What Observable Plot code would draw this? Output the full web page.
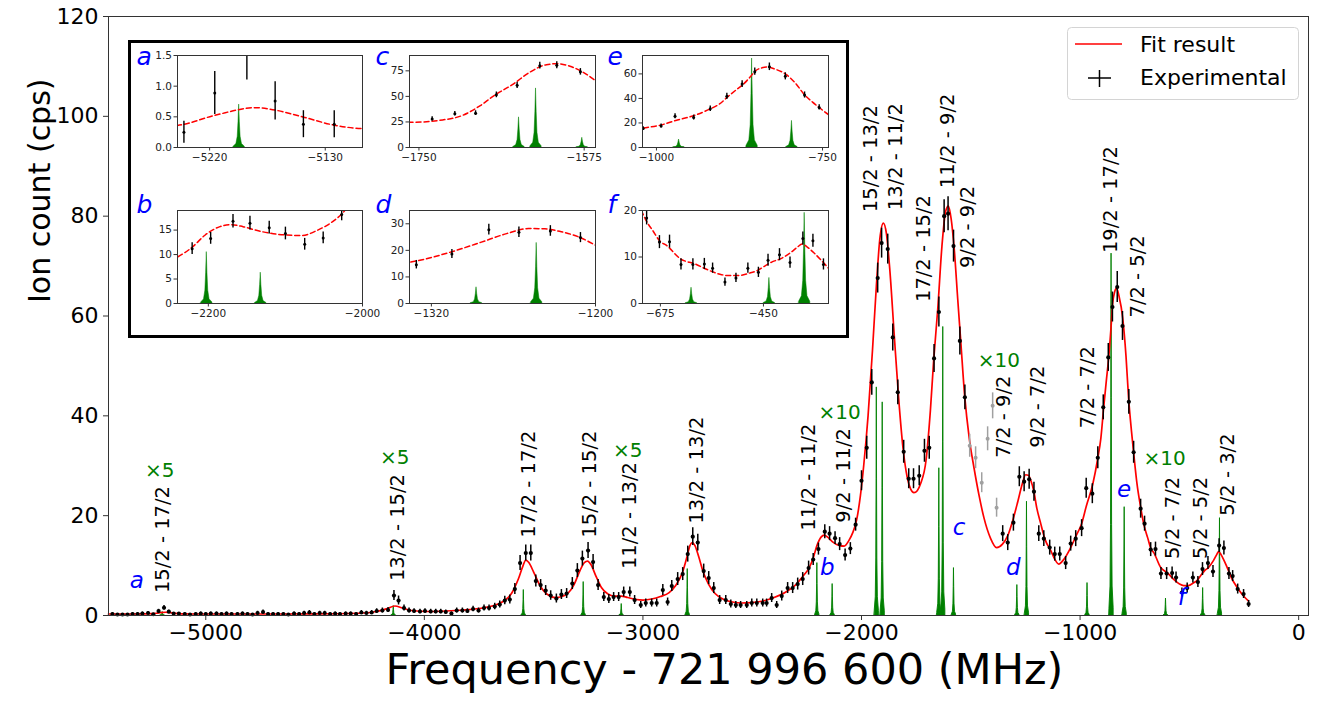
<!DOCTYPE html>
<html><head><meta charset="utf-8">
<script src="https://cdn.jsdelivr.net/npm/d3@7"></script>
<script src="https://cdn.jsdelivr.net/npm/@observablehq/plot@0.6"></script>
<style>
body{margin:0;background:#fff;font-family:"DejaVu Sans",sans-serif;}
#wrap{position:relative;width:1319px;height:704px;overflow:hidden;}
#wrap svg{position:absolute;}
#box{position:absolute;left:128px;top:40px;width:721px;height:298px;border:3px solid #000;background:#fff;box-sizing:border-box;}
</style></head><body><div id="wrap"></div>
<script>
// ---------- data ----------
const expFreq = [
-5427,-5404,-5381,-5358,-5335,-5312,-5290,-5264,-5240,-5216,
-5191,-5169,-5147,-5123,-5096,-5072,-5046,-5023,-5000,-4977,
-4951,-4928,-4905,-4882,-4855,-4832,-4809,-4786,-4763,-4738,
-4715,-4692,-4669,-4645,-4622,-4596,-4573,-4550,-4526,-4503,
-4479,-4456,-4431,-4408,-4386,-4360,-4337,-4312,-4288,-4265,
-4241,-4218,-4192,-4166,-4139,-4118,-4093,-4070,-4047,-4020,
-3997,-3971,-3948,-3925,-3902,-3876,-3852,-3826,-3803,-3777,
-3752,-3727,-3704,-3678,-3655,-3632,-3609,-3586,-3562,-3536,
-3513,-3490,-3468,-3445,-3422,-3396,-3373,-3349,-3323,-3300,
-3277,-3251,-3228,-3205,-3179,-3156,-3134,-3111,-3088,-3060,
-3038,-3010,-2987,-2960,-2937,-2909,-2887,-2868,-2841,-2818,
-2795,-2772,-2749,-2722,-2699,-2676,-2649,-2621,-2598,-2575,
-2553,-2525,-2502,-2479,-2452,-2434,-2411,-2388,-2365,-2338,
-2315,-2292,-2269,-2242,-2221,-2197,-2168,-2146,-2121,-2100,
-2075,-2051,-2027,-2000,-1976,-1953,-1926,-1908,-1880,-1857,
-1834,-1807,-1784,-1762,-1736,-1712,-1690,-1668,-1646,-1622,
-1604,-1579,-1550,-1527,-1354,-1331,-1305,-1278,-1256,-1233,
-1211,-1189,-1166,-1139,-1116,-1093,-1066,-1043,-1020,-993,
-972,-944,-919,-894,-871,-852,-830,-806,-777,-755,
-723,-705,-677,-655,-630,-604,-579,-561,-534,-510,
-484,-461,-440,-415,-392,-364,-342,-319,-302,-279,
-252,-229];
const expCount = [
0.3,0.2,0.2,0.2,0.3,0.3,0.4,0.5,0.25,0.89,
1.55,0.76,0.38,0.38,0.3,0.2,0.3,0.4,0.3,0.4,
0.4,0.3,0.4,0.3,0.3,0.4,0.3,0.2,0.5,0.7,
0.3,0.3,0.3,0.3,0.2,0.4,0.3,0.5,0.6,0.3,
0.5,0.5,0.3,0.4,0.3,0.4,0.4,0.3,0.6,0.5,
0.6,0.9,1.0,1.1,4.0,3.0,1.5,1.0,0.9,0.8,
0.9,0.8,0.8,0.8,0.7,0.4,1.0,1.0,0.9,1.3,
1.0,1.5,1.5,1.8,2.2,3.0,3.2,5.3,10.5,12.5,
12.5,6.9,6.1,5.0,4.0,3.4,4.2,4.4,6.4,9.0,
11.4,13.0,10.7,6.1,3.7,3.3,3.7,3.7,4.7,4.7,
3.1,2.1,2.5,2.5,2.5,5.1,2.7,5.9,7.3,8.3,
12.3,15.8,14.6,8.9,7.5,5.5,3.1,3.1,2.3,2.1,
2.1,2.1,2.5,2.5,2.5,2.5,3.5,2.1,3.9,5.5,
5.5,6.3,7.3,9.5,11.2,13.3,16.8,16.4,15.5,14.3,
12.1,13.4,18.2,27,33.6,46.7,67.6,74.6,73.4,55.7,
44.7,32.8,27.4,27.4,28,33,33.6,51.5,60.8,80,
80.5,74,55,43.7,16.4,14.6,18.6,27.8,26.8,27.3,
24.8,16.4,15.4,13.6,12.3,12.3,10.5,14.4,15.4,17.5,
25.5,24.4,31.6,41.7,51.7,61.8,65.8,58,42.8,32.7,
21.4,18.4,13.2,13.3,8.4,8.4,8.5,7.6,4.6,5.5,
7.6,6.7,9.3,10.5,8.8,14,13.5,8.4,7.9,5.3,
4.3,2.3];
const expErr = [
0.25,0.2,0.2,0.2,0.25,0.25,0.3,0.3,0.18,0.35,
0.45,0.31,0.22,0.22,0.25,0.2,0.25,0.3,0.25,0.3,
0.3,0.25,0.3,0.25,0.25,0.3,0.25,0.2,0.35,0.4,
0.25,0.25,0.25,0.25,0.2,0.3,0.25,0.35,0.4,0.25,
0.35,0.35,0.25,0.3,0.25,0.3,0.3,0.25,0.4,0.35,
0.4,0.45,0.5,0.5,1.0,0.9,0.6,0.5,0.45,0.45,
0.45,0.45,0.45,0.45,0.4,0.3,0.5,0.5,0.45,0.55,
0.5,0.6,0.6,0.65,0.7,0.85,0.9,1.1,1.5,1.6,
1.6,1.2,1.1,1.0,0.95,0.9,1.0,1.0,1.2,1.4,
1.5,1.6,1.5,1.1,0.9,0.9,0.9,0.9,1.0,1.0,
0.9,0.7,0.8,0.8,0.8,1.1,0.8,1.1,1.3,1.3,
1.6,1.8,1.7,1.4,1.3,1.1,0.9,0.9,0.8,0.7,
0.7,0.7,0.8,0.8,0.8,0.8,0.9,0.7,1.0,1.1,
1.1,1.2,1.3,1.4,1.2,1.2,1.4,1.4,1.3,1.3,
1.2,1.2,1.3,2.0,2.3,2.6,3.0,3.0,3.0,2.7,
2.5,2.3,2.0,2.0,2.0,2.3,2.3,2.8,3.0,3.3,
3.4,3.2,2.8,2.5,1.6,1.6,1.7,2.0,2.0,2.0,
1.9,1.6,1.6,1.5,1.4,1.4,1.3,1.5,1.6,1.7,
2.0,2.0,2.2,2.5,2.8,3.0,3.1,2.9,2.5,2.2,
1.9,1.5,1.4,1.4,1.2,1.2,1.2,1.1,0.9,1.0,
1.1,1.1,1.3,1.3,1.2,1.4,1.4,1.2,1.1,1.0,
0.9,0.7];

// excluded (grey) points
const exclFreq = [-1505,-1478,-1450,-1423,-1400,-1382];
const exclCount = [34,31.6,26.6,35.4,42,21.6];
const exclErr = [2.3,2.2,2.0,2.4,2.6,1.9];

// fit curve
const fitFreq = [-5445,-5350,-5280,-5245,-5215,-5184,-5169,-5146,-5122,-5101,-5050,-4800,-4500,-4300,-4220,-4170,-4135,-4100,-4060,-3980,
-3900,-3820,-3750,-3690,-3640,-3600,-3570,-3550,-3536,-3522,-3500,-3470,-3440,-3400,-3370,-3340,-3315,-3290,-3268,-3253,
-3238,-3215,-3190,-3160,-3130,-3100,-3070,-3030,-3000,-2960,-2920,-2880,-2850,-2820,-2800,-2785,-2775,-2762,-2745,-2725,
-2700,-2670,-2630,-2590,-2550,-2500,-2450,-2400,-2350,-2300,-2260,-2240,-2221,-2204,-2185,-2170,-2155,-2134,-2100,-2079,
-2058,-2040,-2023,-2005,-1990,-1970,-1950,-1932,-1916,-1900,-1886,-1870,-1850,-1830,-1810,-1790,-1775,-1760,-1745,-1729,
-1705,-1685,-1670,-1651,-1632,-1615,-1603,-1590,-1575,-1560,-1546,-1528,-1507,-1485,-1462,-1440,-1410,-1382,-1355,-1331,
-1305,-1284,-1265,-1249,-1237,-1225,-1212,-1198,-1180,-1160,-1134,-1115,-1098,-1075,-1043,-1020,-993,-971,-942,-919,
-905,-892,-880,-869,-858,-851,-842,-833,-822,-805,-790,-778,-765,-755,-740,-723,-707,-691,-675,-663,
-631,-599,-573,-545,-526,-505,-482,-463,-448,-430,-413,-390,-375,-366,-355,-340,-320,-308,-290,-275,
-250,-229];
const fitCount = [0.3,0.3,0.32,0.36,0.53,0.65,0.61,0.49,0.36,0.31,0.3,0.3,0.32,0.45,0.8,1.4,1.9,1.5,1.0,0.8,
0.9,1.1,1.4,1.9,2.8,4.5,7.3,9.8,11.1,10.6,8.7,5.9,4.3,3.6,3.8,4.6,6.2,8.8,10.6,10.9,
10.2,7.9,5.6,4.3,3.9,3.9,3.6,3.2,3.1,3.3,3.8,4.6,6.0,8.5,11.5,14.0,14.6,14.0,11.8,8.8,
6.3,4.4,3.2,2.7,2.5,2.6,2.9,3.6,4.6,6.2,8.3,9.5,11.5,14.0,15.7,16.1,15.7,14.8,14.0,13.9,
15.0,16.6,19.0,24,30,40,53,66,75.5,78.6,76.5,69,56,43.5,33.5,27.5,25.3,24.6,25.0,26.5,
31,41,51,61.5,74,81,82,79.5,73,63.5,55,44,35.5,29.5,24,19.6,15.5,13.6,14.3,16,
19.5,23,26.3,28.2,28.1,27,25,21.5,18.4,15.2,13,11.2,10.3,11.2,13.6,15.8,18.4,22,26.3,31.5,
35.5,41.7,47,51.7,58,62.5,64.8,65.6,64,59.6,52,43.5,37,32.6,26.5,21.7,18,15.6,13.3,12.6,
9.6,8.5,7.3,6.3,6.0,6.0,6.5,7.1,8.0,9.0,9.6,11.0,12.2,12.8,12.2,10.9,8.9,7.6,6.2,5.2,
3.8,2.9];

// calculated line positions (green)
const stickFreq = [-5197,-4140,-3545,-3271,-3097,-2795,-2202,-2132,-1930,-1903,-1644,-1626,-1577,-1287,-1243,-966,-856,-796,-607,-437,-360];
const stickHeight = [0.7,1.9,5.1,6.7,2.3,9.3,10.5,6.3,45.7,42.7,29.5,57.8,9.5,6.1,22.8,6.5,72.5,21.7,3.4,5.5,19.5];

// transition labels (frequency, count at the text start)
const transText = ["15/2 - 17/2","13/2 - 15/2","17/2 - 17/2","15/2 - 15/2","11/2 - 13/2","13/2 - 13/2","11/2 - 11/2","9/2 - 11/2","15/2 - 13/2","13/2 - 11/2","17/2 - 15/2","11/2 - 9/2","9/2 - 9/2","7/2 - 9/2","9/2 - 7/2","7/2 - 7/2","19/2 - 17/2","7/2 - 5/2","5/2 - 7/2","5/2 - 5/2","5/2 - 3/2"];
const transFreq = [-5197,-4122,-3522,-3243,-3060,-2754,-2242,-2081,-1958,-1844,-1715,-1606,-1514,-1350,-1194,-965,-860,-737,-576,-448,-325];
const transCount = [4.5,6.9,15.6,15.6,9.3,18.4,17.0,18.6,80.8,81.2,62.8,85.6,69.6,31.6,33.6,37.5,72.6,59.7,11.3,11.3,20.0];

// stick scaling notes
const multText = ["×5","×5","×5","×10","×10","×10"];
const multFreq = [-5211,-4135,-3070,-2100,-1372,-613];
const multCount = [29.0,31.6,33.0,40.7,51.1,31.4];

// inset markers on the main spectrum
const markText = ["a","b","c","d","e","f"];
const markFreq = [-5316,-2156,-1554,-1305,-799,-535];
const markCount = [6.9,9.6,17.6,9.6,25.3,3.6];

// insets
const insetName = ["a","b","c","d","e","f"];
const insetXDomain = [[-5245,-5101],[-2240,-2000],[-1760,-1563],[-1336,-1200],[-1021,-741],[-714,-308]];
const insetYDomain = [[0,1.5],[0,19],[0,90],[0,35],[0,75],[0,20]];
const insetXTicks = [[-5220,-5130],[-2200,-2000],[-1750,-1575],[-1320,-1200],[-1000,-750],[-675,-450]];
const insetYTicks = [[0,0.5,1,1.5],[0,5,10,15],[0,25,50,75],[0,10,20,30],[0,20,40,60],[0,10,20]];

// ---------- build ----------
const exp = expFreq.map((f,i)=>({f, c:expCount[i], lo:expCount[i]-expErr[i], hi:expCount[i]+expErr[i]}));
const excl = exclFreq.map((f,i)=>({f, c:exclCount[i], lo:exclCount[i]-exclErr[i], hi:exclCount[i]+exclErr[i]}));
const fit = fitFreq.map((f,i)=>({f, c:fitCount[i]}));
const trans = transText.map((t,i)=>({t, f:transFreq[i], c:transCount[i]}));
const mult = multText.map((t,i)=>({t, f:multFreq[i], c:multCount[i]}));
const marks = markText.map((t,i)=>({t, f:markFreq[i], c:markCount[i]}));

// peak glyph profile: [offset in px, fraction of height]
const peakProfile = [[-7,0.02],[-3.5,0.08],[-1.8,0.25],[-0.8,0.6],[0,1],[0.8,0.6],[1.8,0.25],[3.5,0.08],[7,0.02]];
function peakShapes(unitsPerPx){
  const out=[];
  stickFreq.forEach((f,i)=>peakProfile.forEach(([dx,fr])=>out.push({id:i, f:f+dx*unitsPerPx, c:stickHeight[i]*fr})));
  return out;
}

const wrap = document.getElementById("wrap");
const font = "DejaVu Sans";

const mL=108, mR=11, mT=16, mB=89, W=1319, H=704;
const xDom=[-5445,45];
const mainPlot = Plot.plot({
  width:W, height:H, marginLeft:mL, marginRight:mR, marginTop:mT, marginBottom:mB,
  style:{fontFamily:font, fontSize:"22px", color:"#000", background:"#fff"},
  x:{domain:xDom}, y:{domain:[0,120]},
  marks:[
    Plot.areaY(peakShapes(0.3*(xDom[1]-xDom[0])/(W-mL-mR)), {x:"f", y:"c", z:"id", fill:"green", stroke:"green", strokeWidth:0.9}),
    Plot.line(fit, {x:"f", y:"c", stroke:"red", strokeWidth:1.7, curve:"monotone-x"}),
    Plot.ruleX(excl, {x:"f", y1:"lo", y2:"hi", stroke:"#a0a0a0", strokeWidth:1.5}),
    Plot.dot(excl, {x:"f", y:"c", r:2, fill:"#a0a0a0"}),
    Plot.ruleX(exp, {x:"f", y1:"lo", y2:"hi", stroke:"#000", strokeWidth:1.5}),
    Plot.dot(exp, {x:"f", y:"c", r:2.1, fill:"#000"}),
    Plot.frame({stroke:"#333", strokeWidth:1}),
    Plot.axisX({ticks:[-5000,-4000,-3000,-2000,-1000,0], tickFormat:d3.format(""), tickSize:5, tickPadding:4, label:null, fontSize:22, stroke:"#333"}),
    Plot.axisY({ticks:[0,20,40,60,80,100,120], tickSize:5, tickPadding:5, label:null, fontSize:22, stroke:"#333"}),
    Plot.text(trans, {x:"f", y:"c", text:"t", rotate:-90, textAnchor:"start", lineAnchor:"middle", fontSize:19.5, fill:"#000"}),
    Plot.text(mult, {x:"f", y:"c", text:"t", fontSize:20, fill:"green"}),
    Plot.text(marks, {x:"f", y:"c", text:"t", fontSize:23, fontStyle:"italic", fill:"blue"}),
    Plot.text(["Frequency - 721 996 600 (MHz)"], {frameAnchor:"bottom", dx:16, dy:68, fontSize:43, fill:"#000"}),
    Plot.text(["Ion count (cps)"], {frameAnchor:"left", rotate:-90, dx:-68, dy:-13, fontSize:30, fill:"#000"})
  ]
});
mainPlot.style.left="0px"; mainPlot.style.top="0px";
wrap.append(mainPlot);

// legend
const lg = document.createElementNS("http://www.w3.org/2000/svg","svg");
lg.setAttribute("width","232"); lg.setAttribute("height","73");
lg.style.left="1067px"; lg.style.top="27px";
lg.innerHTML = `<rect x="0.5" y="0.5" width="231" height="72" rx="4" fill="rgba(255,255,255,0.9)" stroke="#d4d4d4"/>
<line x1="8" x2="55" y1="17" y2="17" stroke="red" stroke-width="1.7"/>
<text x="73" y="25" font-family="DejaVu Sans" font-size="22" fill="#000">Fit result</text>
<line x1="21" x2="44" y1="51" y2="51" stroke="#000" stroke-width="1.5"/>
<line x1="32.5" x2="32.5" y1="43" y2="60" stroke="#000" stroke-width="1.5"/>
<text x="73" y="58" font-family="DejaVu Sans" font-size="22" fill="#000">Experimental</text>`;
wrap.append(lg);

// inset box
const box = document.createElement("div"); box.id="box"; wrap.append(box);

// inset frames (layout)
const insetFrames = [[177,55,362,147],[177,210,362,303],[409,55,595,147],[409,210,595,303],[642,55,828,147],[642,210,828,303]];
const letterDx = [-41,-41,-34,-34,-35,-35];
const letterDy = [9,2,9,2,9,2];
insetName.forEach((name,k)=>{
  const [x0,y0,x1,y1]=insetFrames[k];
  const iL=50,iR=22,iT=28,iB=22;
  const xd=insetXDomain[k], yd=insetYDomain[k];
  const p = Plot.plot({
    width:(x1-x0)+iL+iR, height:(y1-y0)+iT+iB, marginLeft:iL, marginRight:iR, marginTop:iT, marginBottom:iB,
    style:{fontFamily:font, fontSize:"10.5px", color:"#222", background:"transparent", overflow:"visible"},
    x:{domain:xd}, y:{domain:yd},
    marks:[
      Plot.areaY(peakShapes(0.8*(xd[1]-xd[0])/(x1-x0)), {x:"f", y:"c", z:"id", fill:"green", stroke:"green", strokeWidth:0.5, clip:true}),
      Plot.line(fit, {x:"f", y:"c", stroke:"red", strokeWidth:1.5, strokeDasharray:"5,3", curve:"monotone-x", clip:true}),
      Plot.ruleX(exp, {x:"f", y1:"lo", y2:"hi", stroke:"#000", strokeWidth:1.4, clip:true}),
      Plot.dot(exp, {x:"f", y:"c", r:1.5, fill:"#000", clip:true}),
      Plot.frame({stroke:"#333", strokeWidth:1}),
      Plot.axisX({ticks:insetXTicks[k], tickFormat:d3.format(""), tickSize:3.5, tickPadding:2.5, label:null, fontSize:10.5, stroke:"#333"}),
      Plot.axisY({ticks:insetYTicks[k], tickFormat: k===0 ? d3.format(".1f") : d3.format(""), tickSize:3.5, tickPadding:2, label:null, fontSize:10.5, stroke:"#333"}),
      Plot.text([name], {frameAnchor:"top-left", dx:letterDx[k], dy:letterDy[k], textAnchor:"start", lineAnchor:"bottom", fontSize:25, fontStyle:"italic", fill:"blue"})
    ]
  });
  p.style.left=(x0-iL)+"px"; p.style.top=(y0-iT)+"px";
  wrap.append(p);
});
</script></body></html>
